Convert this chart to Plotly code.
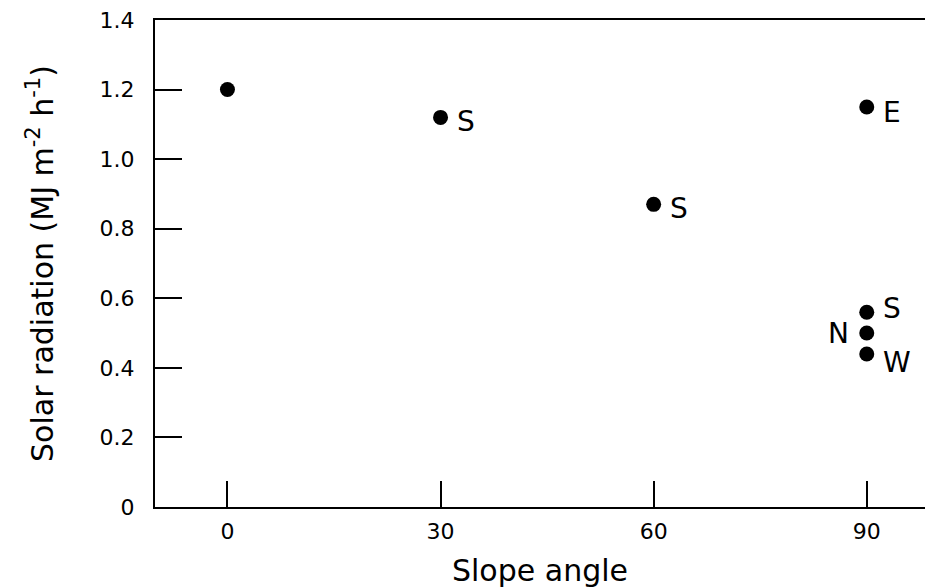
import plotly.graph_objects as go

# Data
slope_angle = [0, 30, 60, 90, 90, 90, 90]
solar_radiation = [1.20, 1.12, 0.87, 1.15, 0.56, 0.50, 0.44]
aspect_labels = ["", "S", "S", "E", "S", "N", "W"]
x_ticks = [0, 30, 60, 90]
y_ticks = [0, 0.2, 0.4, 0.6, 0.8, 1.0, 1.2, 1.4]
y_tick_text = ["0", "0.2", "0.4", "0.6", "0.8", "1.0", "1.2", "1.4"]

FONT = "DejaVu Sans"

fig = go.Figure()
fig.add_trace(go.Scatter(
    x=slope_angle, y=solar_radiation, mode="markers",
    marker=dict(color="black", size=15),
    showlegend=False, hoverinfo="skip"))

# label placement styles (anchor side, vertical shift in px)
label_style = {"S": ("left", -4), "E": ("left", -6), "W": ("left", -9), "N": ("right", 0)}
for i, (xv, yv, lab) in enumerate(zip(slope_angle, solar_radiation, aspect_labels)):
    if not lab:
        continue
    side, ys = label_style[lab]
    if i == 4:
        ys = 4
    fig.add_annotation(
        x=xv, y=yv, text=lab, showarrow=False,
        xanchor=side, yanchor="middle",
        xshift=14 if side == "left" else -16, yshift=ys,
        font=dict(family=FONT, size=28, color="black"))

fig.update_layout(
    width=925, height=588,
    margin=dict(l=155, r=0, t=20, b=81),
    plot_bgcolor="white", paper_bgcolor="white",
    font=dict(family=FONT, color="black"),
)
fig.update_xaxes(
    range=[-10.2, 98.2], tickvals=x_ticks,
    ticks="inside", ticklen=26, tickwidth=2, tickcolor="black",
    showline=True, linecolor="black", linewidth=2, mirror=True,
    showgrid=False, zeroline=False,
    tickfont=dict(family=FONT, size=22), ticklabelstandoff=4,
    title=dict(text="Slope angle", font=dict(family=FONT, size=30), standoff=22),
)
fig.update_yaxes(
    range=[0, 1.4], tickvals=y_ticks, ticktext=y_tick_text,
    ticks="inside", ticklen=27, tickwidth=2, tickcolor="black",
    showline=True, linecolor="black", linewidth=2,
    showgrid=False, zeroline=False,
    tickfont=dict(family=FONT, size=22), ticklabelstandoff=14,
    title=dict(text="Solar radiation (MJ m<sup>-2</sup> h<sup>-1</sup>)",
               font=dict(family=FONT, size=30), standoff=37),
)

fig.write_html("out.html")
